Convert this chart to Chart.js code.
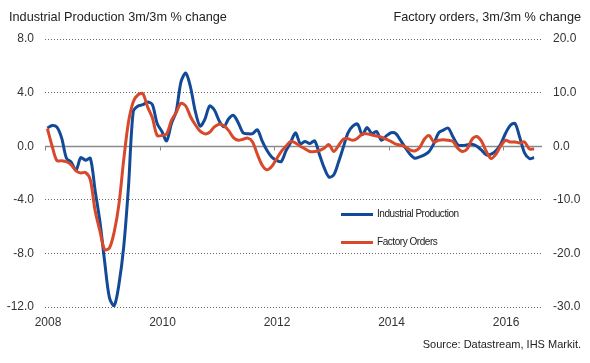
<!DOCTYPE html>
<html>
<head>
<meta charset="utf-8">
<script src="https://cdn.jsdelivr.net/npm/chart.js@4.4.1/dist/chart.umd.min.js"></script>
<style>
  body { margin: 0; background: #fff; }
  #wrap { position: relative; width: 590px; height: 363px; font-family: "Liberation Sans", Arial, sans-serif; color: #222; }
  .title { position: absolute; top: 10px; font-size: 12.7px; white-space: nowrap; }
  .legend { position: absolute; left: 341px; font-size: 10px; letter-spacing: -0.45px; white-space: nowrap; color: #222; }
  .legend span { display: inline-block; width: 32px; height: 3px; vertical-align: middle; margin-right: 4px; }
  .source { position: absolute; right: 9px; top: 338px; font-size: 11px; white-space: nowrap; }
</style>
</head>
<body>
<div id="wrap">
  <canvas id="chart" width="590" height="363"></canvas>
  <div class="title" style="left:9px">Industrial Production 3m/3m % change</div>
  <div class="title" style="right:9px">Factory orders, 3m/3m % change</div>
  <div class="legend" style="top:208px"><span style="background:#134a97"></span>Industrial Production</div>
  <div class="legend" style="top:236px"><span style="background:#d8492b"></span>Factory Orders</div>
  <div class="source">Source: Datastream, IHS Markit.</div>
</div>
<script>
// Monthly series, Jan 2008 onwards
const startYear = 2008;
const yearTicks = [2008, 2010, 2012, 2014, 2016];
const leftTicks = [-12, -8, -4, 0, 4, 8];
const rightTicks = [-30, -20, -10, 0, 10, 20];

// Industrial Production 3m/3m % change (left axis)
const ipValues = [
  1.35, 1.55, 1.42, 0.6, -0.9, -1.2, -1.8, -0.85, -1.05, -0.9, -3.3, -5.6,
  -8.6, -11.3, -11.9, -10.3, -7.5, -3.0, 2.6, 3.0, 3.1, 3.3, 3.1, 1.7,
  1.1, 0.4, 1.7, 2.6, 4.8, 5.45, 4.4, 2.6, 1.5, 2.0, 3.0, 2.7,
  1.9, 1.45, 2.05, 2.3, 1.75, 1.0, 0.93, 0.93, 1.23, 0.4, -0.3, -0.8,
  -1.05, -1.15, -0.35, 0.3, 1.0, 0.2, 0.35, 0.2, 0.4, -0.6, -1.6, -2.3,
  -2.15, -1.2, -0.1, 1.0, 1.5, 1.65, 0.85, 1.4, 0.95, 1.1, 0.45, 0.75,
  1.0, 0.95, 0.45, -0.1, -0.6, -0.9, -0.8, -0.65, -0.4, 0.2, 1.0, 1.2,
  1.35, 0.7, 0.1, 0.05, 0.1, 0.15, 0.0, -0.3, -0.65, -0.6, -0.35, 0.15,
  0.95, 1.55, 1.7, 0.65, -0.5, -0.92, -0.85
];

// Factory orders 3m/3m % change (right axis)
const foValues = [
  3.3, 0.0, -2.7, -2.7, -2.9, -3.5, -4.6, -5.0, -4.9, -6.3, -12.0, -15.8,
  -19.3, -19.0, -16.0, -10.8, -2.5, 4.5, 8.3, 9.6, 9.8, 7.3, 5.3, 2.0,
  2.0, 2.3, 4.8, 6.3, 8.0, 7.5, 5.5, 4.0, 2.8, 2.3, 2.6, 3.6,
  4.1, 3.8, 2.9, 1.6, 1.1, 1.3, 1.5, 0.8, -1.5, -3.5, -4.4, -3.8,
  -2.4, -1.0, 0.0, 0.9, 0.6, 0.0, -0.5, -1.0, -1.0, -0.8, -0.4, 0.3,
  -1.0, 0.1, 1.3, 1.4, 1.1, 1.5, 2.3, 2.3, 2.1, 1.9, 1.7, 1.3,
  0.9, 0.4, 0.2, -0.1, -0.7, -0.9, -0.3, 1.3, 2.0, 0.8, 1.1, 1.2,
  1.1, 0.9, -0.4, -1.0, -0.5, 1.3, 1.8, 0.9, -1.0, -2.3, -1.5, 0.0,
  1.1, 0.8, 0.8, 0.6, 0.8, -0.5, -0.5
];

// mid-month position of each observation
function toPoints(values) {
  return values.map((v, i) => ({ x: startYear + (i + 0.5) / 12, y: v }));
}

const textColor = "#333";
const tickFont = { family: "'Liberation Sans', Arial, sans-serif", size: 12 };

// zero line + small year ticks on it
const zeroLine = {
  id: "zeroLine",
  beforeDatasetsDraw(chart) {
    const { ctx, chartArea, scales } = chart;
    const y0 = Math.round(scales.y.getPixelForValue(0)) + 0.5;
    ctx.save();
    ctx.strokeStyle = "#8a8a8a";
    ctx.lineWidth = 1.5;
    ctx.beginPath();
    ctx.moveTo(chartArea.left, y0);
    ctx.lineTo(chartArea.right, y0);
    ctx.stroke();
    ctx.lineWidth = 1;
    yearTicks.forEach(yr => {
      const x = Math.round(scales.x.getPixelForValue(yr)) + 0.5;
      ctx.beginPath();
      ctx.moveTo(x, y0);
      ctx.lineTo(x, y0 + 4);
      ctx.stroke();
    });
    ctx.restore();
  }
};

new Chart(document.getElementById("chart").getContext("2d"), {
  type: "line",
  data: {
    datasets: [
      {
        label: "Industrial Production",
        data: toPoints(ipValues),
        yAxisID: "y",
        borderColor: "#134a97",
        borderWidth: 3,
        pointRadius: 0,
        tension: 0.3,
        order: 2
      },
      {
        label: "Factory Orders",
        data: toPoints(foValues),
        yAxisID: "y1",
        borderColor: "#d8492b",
        borderWidth: 3,
        pointRadius: 0,
        tension: 0.3,
        order: 1
      }
    ]
  },
  options: {
    responsive: false,
    animation: false,
    devicePixelRatio: 1,
    layout: { padding: { top: 39, bottom: 36, left: 0, right: 0 } },
    plugins: { legend: { display: false }, tooltip: { enabled: false } },
    scales: {
      x: {
        type: "linear",
        min: 2008,
        max: 2016.68,
        afterFit: s => { s.height = 20; },
        afterBuildTicks: s => { s.ticks = yearTicks.map(v => ({ value: v })); },
        grid: { display: false, drawTicks: false },
        border: { display: false },
        ticks: { color: textColor, font: tickFont, padding: 8, labelOffset: 3, maxRotation: 0, callback: v => String(v) }
      },
      y: {
        position: "left",
        min: -12,
        max: 8,
        afterFit: s => { s.width = 45; },
        afterBuildTicks: s => { s.ticks = leftTicks.map(v => ({ value: v })); },
        grid: {
          drawTicks: false,
          color: ctx => ctx.tick && ctx.tick.value === 0 ? "rgba(0,0,0,0)" : "#666",
          lineWidth: 1
        },
        border: { display: false, dash: [1, 2] },
        ticks: { color: textColor, font: tickFont, padding: 11, callback: v => v.toFixed(1) }
      },
      y1: {
        position: "right",
        min: -30,
        max: 20,
        afterFit: s => { s.width = 48; },
        afterBuildTicks: s => { s.ticks = rightTicks.map(v => ({ value: v })); },
        grid: { display: false, drawTicks: false },
        border: { display: false },
        ticks: { color: textColor, font: tickFont, padding: 11, callback: v => v.toFixed(1) }
      }
    }
  },
  plugins: [zeroLine]
});
</script>
</body>
</html>
